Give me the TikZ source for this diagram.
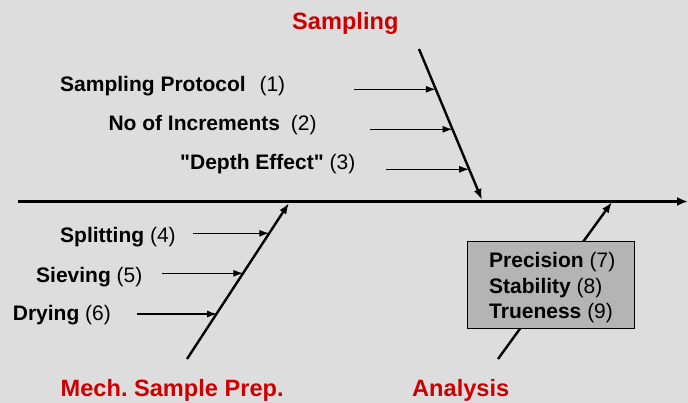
\documentclass[tikz,border=0pt]{standalone}
\usepackage{fontspec}
\setmainfont{Liberation Sans}
\newfontfamily\rawfont{Liberation Sans}[Ligatures=TeXOff]
\usetikzlibrary{arrows.meta}
\definecolor{bg}{HTML}{DDDDDD}
\definecolor{boxgray}{HTML}{B4B4B4}
\definecolor{titlered}{HTML}{CC0000}
\frenchspacing
\begin{document}
\begin{tikzpicture}[x=1pt,y=-1pt,
  lbl/.style={anchor=base west,inner sep=0pt,font=\fontsize{21}{24}\selectfont},
  ttl/.style={anchor=base west,inner sep=0pt,text=titlered,font=\fontsize{23.6}{26}\selectfont\bfseries},
  spine/.style={line width=3pt,-{Latex[length=11pt,width=9pt]}},
  bone/.style={line width=2.4pt,-{Latex[length=11pt,width=8pt]}},
  sub/.style={line width=1.2pt,-{Latex[length=10pt,width=7pt]}},
  infobox/.style={draw=black,line width=1pt,fill=boxgray,minimum width=167pt,minimum height=87pt,inner sep=0pt}]
\useasboundingbox (0,0) rectangle (688,403);
\fill[bg] (0,0) rectangle (688,403);
% spine
\coordinate (spineS) at (18,201.5);
\coordinate (spineE) at (688,201.5);
\draw[spine] (spineS) -- (spineE);
% sampling bone
\coordinate (sampTop) at (419,49);
\coordinate (sampTip) at (482,200);
\draw[bone] (sampTop) -- (sampTip);
% mech bone
\coordinate (mechBot) at (187,359);
\coordinate (mechTip) at (289,203);
\draw[bone] (mechBot) -- (mechTip);
% analysis bone
\coordinate (anaBot) at (498,359);
\coordinate (anaTip) at (612,202);
\draw[bone] (anaBot) -- (anaTip);
% box
\node[infobox] (box) at (550.5,285.3) {};
\node[lbl] (t7) at (489,267.3) {\textbf{Precision} (7)};
\node[lbl] (t8) at (489,293.3) {\textbf{Stability} (8)};
\node[lbl] (t9) at (489,318.5) {\textbf{Trueness} (9)};
% titles
\node[ttl] (tS) at (292,29.5) {Sampling};
\node[ttl] (tM) at (60.5,396) {Mech. Sample Prep.};
\node[ttl] (tA) at (412,396) {Analysis};
% sampling labels
\node[lbl] (t1) at (60,91.5) {\textbf{Sampling Protocol}\hspace{8pt} (1)};
\node[lbl] (t2) at (108.3,130.7) {\textbf{No of Increments}\hspace{5pt} (2)};
\node[lbl] (t3) at (180,170) {\textbf{{\rawfont"}Depth Effect{\rawfont"}} (3)};
\coordinate (a1s) at (354,89.3);
\coordinate (a1e) at (435.8,89.3);
\coordinate (a2s) at (370,129.3);
\coordinate (a2e) at (452.6,129.3);
\coordinate (a3s) at (386,169.3);
\coordinate (a3e) at (469.2,169.3);
\draw[sub] (a1s) -- (a1e);
\draw[sub] (a2s) -- (a2e);
\draw[sub] (a3s) -- (a3e);
% mech labels
\node[lbl] (t4) at (60,242.7) {\textbf{Splitting} (4)};
\node[lbl] (t5) at (36,283) {\textbf{Sieving} (5)};
\node[lbl] (t6) at (12.7,320) {\textbf{Drying} (6)};
\coordinate (a4s) at (193.3,233.3);
\coordinate (a4e) at (269.3,233.3);
\coordinate (a5s) at (161.7,273.3);
\coordinate (a5e) at (243.3,273.3);
\coordinate (a6s) at (137.3,314);
\coordinate (a6e) at (217,314);
\draw[sub] (a4s) -- (a4e);
\draw[sub] (a5s) -- (a5e);
\draw[sub] (a6s) -- (a6e);
\end{tikzpicture}
\end{document}
